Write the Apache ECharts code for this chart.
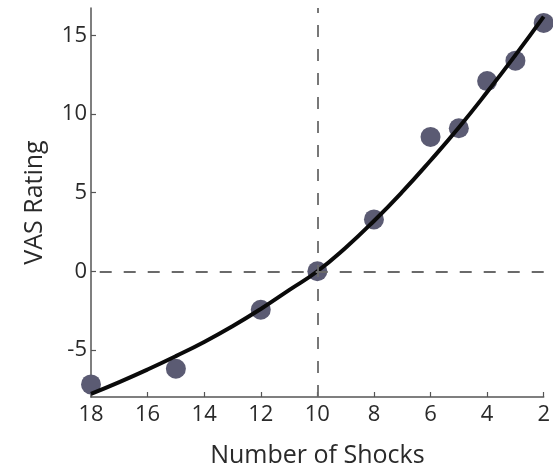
<!DOCTYPE html>
<html>
<head>
<meta charset="utf-8">
<script src="https://cdn.jsdelivr.net/npm/echarts@6/dist/echarts.min.js"></script>
<style>
html,body{margin:0;padding:0;background:#fff;}
#chart{width:553px;height:473px;}
</style>
</head>
<body>
<div id="chart"></div>
<script>
// Observed data points (Number of Shocks, VAS Rating)
var shocks = [18, 15, 12, 10, 8, 6, 5, 4, 3, 2];
var vasRating = [-7.2, -6.2, -2.45, 0, 3.3, 8.55, 9.1, 12.1, 13.4, 15.8];
// Fitted curve
var curveShocks = [18, 17, 16, 15, 14, 13, 12, 11, 10, 9, 8, 7, 6, 5, 4, 3, 2];
var curveRating = [-7.8, -7.05, -6.25, -5.4, -4.5, -3.5, -2.4, -1.2, 0, 1.5, 3.2, 5.05, 7.05, 9.15, 11.4, 13.75, 16.2];
// Tick labels
var xTicks = [18, 16, 14, 12, 10, 8, 6, 4, 2];
var yTicks = [-5, 0, 5, 10, 15];
var xName = 'Number of Shocks';
var yName = 'VAS Rating';

var pts = shocks.map(function (s, i) { return [s, vasRating[i]]; });
var curve = curveShocks.map(function (s, i) { return [s, curveRating[i]]; });

var font = 'Open Sans';
var chart = echarts.init(document.getElementById('chart'), null, {renderer: 'canvas'});
chart.setOption({
  animation: false,
  backgroundColor: '#ffffff',
  grid: {left: 91, right: 5, top: 8, bottom: 74},
  xAxis: {
    type: 'value', inverse: true, min: 2, max: 18, interval: 2,
    name: xName, nameLocation: 'middle', nameGap: 46,
    nameTextStyle: {fontFamily: font, fontSize: 25, color: '#2a2a2a'},
    axisLine: {show: true, onZero: false, lineStyle: {color: '#555', width: 1.5}},
    axisTick: {show: true, inside: true, length: 5, lineStyle: {color: '#555', width: 1.2}, customValues: xTicks},
    axisLabel: {fontFamily: font, fontSize: 22, color: '#2a2a2a', margin: 7, customValues: xTicks},
    splitLine: {show: false}
  },
  yAxis: {
    type: 'value', min: -8, max: 16.75,
    name: yName, nameLocation: 'middle', nameGap: 44,
    nameTextStyle: {fontFamily: font, fontSize: 25, color: '#2a2a2a'},
    axisLine: {show: true, onZero: false, lineStyle: {color: '#555', width: 1.5}},
    axisTick: {show: true, inside: true, length: 5, lineStyle: {color: '#555', width: 1.2}, customValues: yTicks},
    axisLabel: {fontFamily: font, fontSize: 22, color: '#2a2a2a', margin: 4, customValues: yTicks},
    splitLine: {show: false}
  },
  series: [
    {
      type: 'line', data: [], silent: true,
      markLine: {
        silent: true, symbol: 'none', label: {show: false},
        lineStyle: {type: [12, 12], color: '#6a6a6a', width: 1.8},
        data: [{xAxis: 10}, {yAxis: 0}]
      }
    },
    {
      type: 'scatter', data: pts, symbol: 'circle', symbolSize: 20, clip: false,
      itemStyle: {color: '#5b5b73', opacity: 1}
    },
    {
      type: 'line', data: curve, smooth: true, showSymbol: false, symbol: 'none', clip: false,
      lineStyle: {color: '#0a0a0a', width: 4}
    }
  ]
});
</script>
</body>
</html>
